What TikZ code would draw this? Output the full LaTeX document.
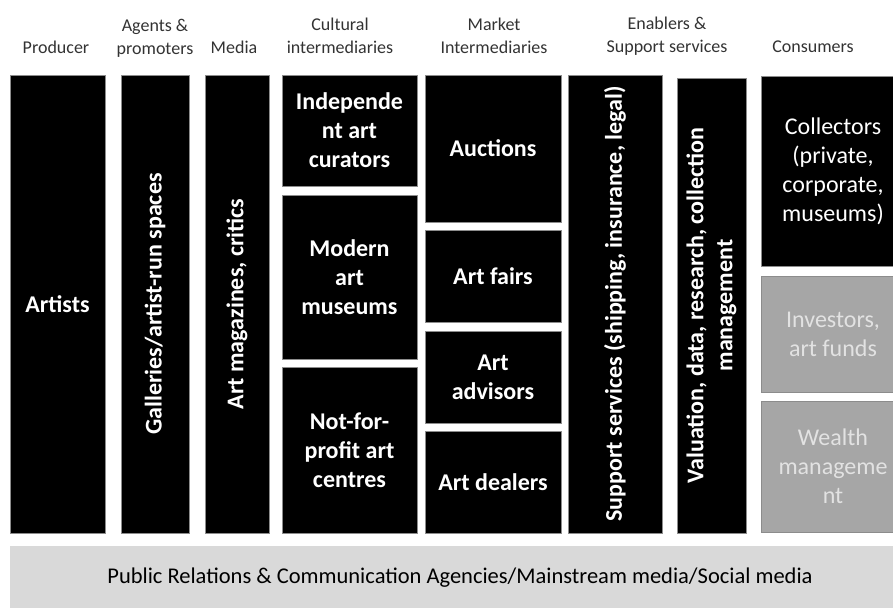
\documentclass[tikz,border=0pt]{standalone}
\usepackage{fontspec}
\setmainfont{Carlito}
\usetikzlibrary{positioning}
\definecolor{HeadGrey}{RGB}{51,51,51}
\definecolor{MidGrey}{RGB}{166,166,166}
\definecolor{PaleGrey}{RGB}{217,217,217}
\definecolor{SoftWhite}{RGB}{226,226,226}
\definecolor{EdgeGrey}{RGB}{140,140,140}
\tikzset{
  head/.style={text=HeadGrey,align=center,inner sep=0pt,
    font=\fontsize{18}{23}\selectfont},
  bar/.style={fill=black,draw=EdgeGrey,line width=0.5pt,text=white,
    align=center,inner sep=0pt,font=\bfseries\fontsize{24}{29}\selectfont},
  buyer/.style={bar,font=\fontsize{24}{29}\selectfont},
  softbar/.style={buyer,fill=MidGrey,text=SoftWhite},
  band/.style={fill=PaleGrey,draw=none,inner sep=0pt,text=black,
    font=\fontsize{22.5}{26}\selectfont}
}

\begin{document}
\begin{tikzpicture}[x=1pt,y=-1pt]
\useasboundingbox (0,0) rectangle (893,607);

% column headings
\node[head] (hProd) at (56,47) {Producer};
\node[head] (hAgent) at (155,38) {Agents \&\\promoters};
\node[head] (hMedia) at (234,47) {Media};
\node[head] (hCult) at (340,36) {Cultural\\intermediaries};
\node[head] (hMarket) at (494,36) {Market\\Intermediaries};
\node[head] (hEnab) at (667,36) {Enablers \&\\Support services};
\node[head] (hCons) at (813,47) {Consumers};

% single-block columns
\node[bar,minimum width=95pt,minimum height=458pt] (artists) at (57.5,304) {Artists};
\node[bar,rotate=90,minimum width=458pt,minimum height=68pt] (galleries) at (155,304)
  {Galleries/artist-run spaces};
\node[bar,rotate=90,minimum width=458pt,minimum height=64pt] (magazines) at (237,304)
  {Art magazines, critics};

% cultural intermediaries
\node[bar,minimum width=135pt,minimum height=111pt] (curators) at (349.5,130.5)
  {Independe\\nt art\\curators};
\node[bar,minimum width=135pt,minimum height=164pt] (museums) at (349.5,277)
  {Modern\\art\\museums};
\node[bar,minimum width=135pt,minimum height=166pt] (nonprofit) at (349.5,450)
  {Not-for-\\profit art\\centres};

% market intermediaries
\node[bar,minimum width=136pt,minimum height=147pt] (auctions) at (493,148.5) {Auctions};
\node[bar,minimum width=136pt,minimum height=92pt] (fairs) at (493,276) {Art fairs};
\node[bar,minimum width=136pt,minimum height=92pt] (advisors) at (493,377)
  {Art\\advisors};
\node[bar,minimum width=136pt,minimum height=102pt] (dealers) at (493,482) {Art dealers};

% enablers
\node[bar,rotate=90,minimum width=458pt,minimum height=94pt] (support) at (615,304)
  {Support services (shipping, insurance, legal)};
\node[bar,rotate=90,minimum width=455pt,minimum height=69pt] (valuation) at (711.5,305.5)
  {Valuation, data, research, collection\\management};

% consumers (run off the right edge)
\node[buyer,minimum width=144pt,minimum height=190pt] (collectors) at (833,171)
  {Collectors\\(private,\\corporate,\\museums)};
\node[softbar,minimum width=144pt,minimum height=116pt] (investors) at (833,334)
  {Investors,\\art funds};
\node[softbar,minimum width=144pt,minimum height=131pt] (wealth) at (833,466.5)
  {Wealth\\manageme\\nt};

% communication layer along the bottom
\node[band,minimum width=892pt,minimum height=64pt] (pr) at (456,578) {};
\node[band,fill=none] (prText) at (460,578)
  {Public Relations \& Communication Agencies/Mainstream media/Social media};
\end{tikzpicture}
\end{document}
